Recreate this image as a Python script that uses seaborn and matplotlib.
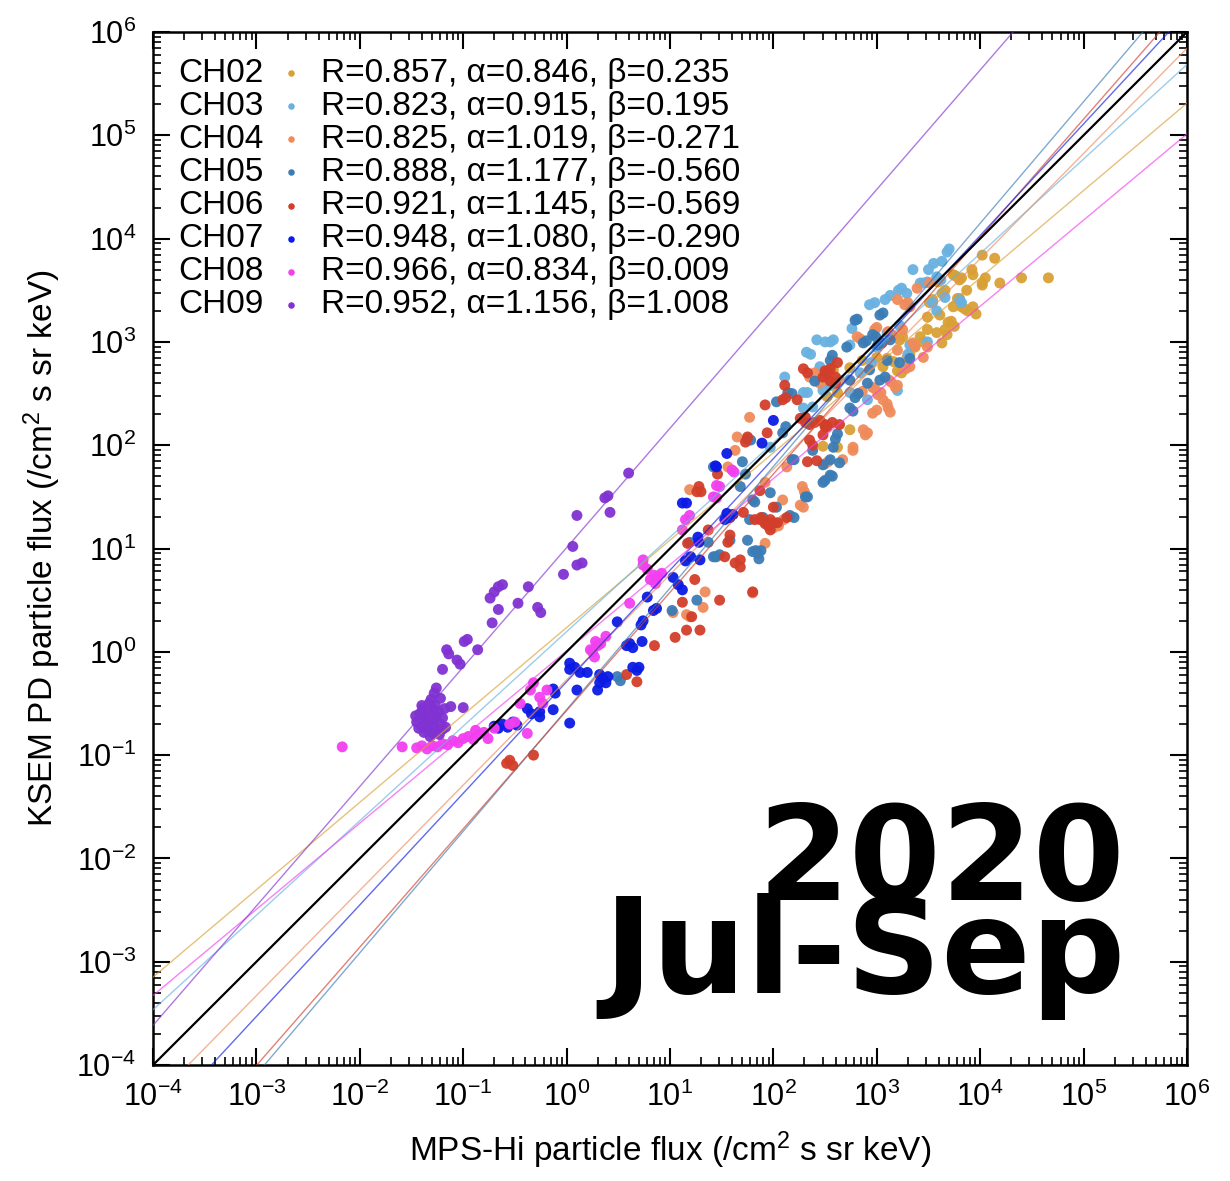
import numpy as np
import pandas as pd
import matplotlib
matplotlib.use("Agg")
import matplotlib.pyplot as plt
import seaborn as sns
from matplotlib.ticker import FixedLocator, FuncFormatter, NullFormatter

sns.set_theme(style="ticks")
plt.rcParams["font.family"] = ["Liberation Sans", "DejaVu Sans"]
plt.rcParams["mathtext.fontset"] = "custom"
plt.rcParams["mathtext.rm"] = "Liberation Sans"
plt.rcParams["mathtext.it"] = "Liberation Sans:italic"
plt.rcParams["mathtext.bf"] = "Liberation Sans:bold"
for key in ("text.color", "axes.labelcolor", "xtick.color", "ytick.color", "axes.edgecolor"):
    plt.rcParams[key] = "black"

# ---- channel metadata --------------------------------------------------
channels = ["CH02", "CH03", "CH04", "CH05", "CH06", "CH07", "CH08", "CH09"]
corr_r = [0.857, 0.823, 0.825, 0.888, 0.921, 0.948, 0.966, 0.952]
slope_alpha = [0.846, 0.915, 1.019, 1.177, 1.145, 1.080, 0.834, 1.156]
offset_beta = [0.235, 0.195, -0.271, -0.560, -0.569, -0.290, 0.009, 1.008]
colors = ["#D9A035", "#68B1E0", "#EF8B5B", "#3B7CB6",
          "#D23E2A", "#0B1BE4", "#F23FF0", "#8132D2"]
decades = list(range(-4, 7))

# ---- measured fluxes, log10 (MPS-Hi, KSEM PD) --------------------------
ch02_logx = [4.02, 4.14, 4.19, 4.40, 4.66, 3.92, 3.93, 3.74, 3.76, 3.80, 3.82, 3.87,
             4.02, 4.05, 3.66, 3.63, 3.59, 3.78, 3.82, 3.85, 3.93, 3.74, 3.61, 3.69,
             3.72, 3.75, 3.58, 3.66, 3.68, 3.49, 3.49, 3.42, 3.45, 3.37, 3.63, 3.29,
             3.32, 3.16, 3.10, 3.24, 3.20, 3.06, 3.00, 2.86, 2.74, 2.58, 2.62, 2.52,
             2.74, 2.62, 2.48, 3.54, 3.51, 3.22, 3.25, 4.02, 3.80, 3.96, 3.88]
ch02_logy = [3.84, 3.81, 3.57, 3.62, 3.62, 3.70, 3.65, 3.65, 3.64, 3.60, 3.62, 3.50,
             3.57, 3.62, 3.50, 3.47, 3.58, 3.42, 3.34, 3.32, 3.34, 3.34, 3.26, 3.19,
             3.20, 3.15, 3.09, 3.12, 3.07, 3.24, 3.12, 3.05, 3.00, 2.95, 2.99, 2.84,
             2.88, 2.81, 2.84, 2.70, 2.72, 2.76, 2.85, 2.82, 2.75, 2.73, 2.51, 2.47,
             2.15, 1.98, 1.99, 3.41, 3.38, 3.02, 3.05, 3.55, 3.42, 3.27, 3.30]

ch03_logx = [3.68, 3.70, 3.63, 3.55, 3.50, 3.58, 3.62, 3.35, 3.21, 3.24, 3.42, 3.45,
             3.49, 2.93, 2.98, 3.08, 3.13, 3.29, 2.76, 2.58, 2.55, 2.42, 2.32, 2.36,
             2.45, 2.50, 3.10, 3.22, 3.66, 3.80, 3.82, 3.00, 2.74, 2.74, 2.48, 2.33,
             2.38, 2.84, 3.20, 2.91, 2.11, 2.29, 2.50, 2.55, 2.29, 1.97, 3.49, 3.32,
             3.54, 3.58, 3.30, 2.95]
ch03_logy = [3.87, 3.90, 3.78, 3.76, 3.70, 3.63, 3.60, 3.70, 3.50, 3.52, 3.57, 3.57,
             3.58, 3.36, 3.38, 3.41, 3.45, 3.47, 3.13, 3.02, 3.00, 3.02, 2.90, 2.88,
             2.76, 3.00, 3.09, 3.16, 3.43, 3.41, 3.38, 2.95, 2.97, 2.51, 2.53, 2.51,
             2.37, 2.70, 2.53, 2.44, 2.66, 2.51, 2.66, 2.58, 2.36, 1.98, 3.00, 2.97,
             3.38, 3.30, 2.88, 2.80]

ch04_logx = [3.20, 3.27, 3.30, 3.32, 3.39, 3.51, 3.11, 3.13, 3.16, 2.98, 3.00, 2.81,
             2.84, 3.25, 3.35, 3.37, 3.20, 3.49, 3.45, 3.32, 3.28, 3.12, 3.14, 2.96,
             2.98, 2.86, 2.82, 3.01, 3.04, 3.18, 3.20, 2.96, 3.00, 3.11, 3.13, 2.91,
             2.77, 2.53, 2.50, 2.67, 2.64, 2.45, 2.40, 1.65, 1.63, 1.77, 2.35, 2.13,
             2.28, 2.30, 2.09, 1.92, 1.56, 1.19, 1.92, 1.45, 1.34, 1.32, 1.16, 1.19,
             1.03, 2.89, 2.87, 2.77, 3.06, 3.10, 2.26, 2.29, 2.00, 1.80, 2.05, 2.10]
ch04_logy = [3.41, 3.36, 3.38, 3.34, 3.52, 3.57, 3.10, 3.08, 3.06, 3.12, 3.14, 3.05,
             3.03, 3.12, 2.99, 2.96, 2.92, 2.95, 2.85, 2.76, 2.74, 2.63, 2.61, 2.56,
             2.55, 2.52, 2.50, 2.49, 2.51, 2.56, 2.58, 2.31, 2.34, 2.36, 2.32, 2.12,
             1.95, 1.84, 1.82, 1.86, 2.63, 2.60, 2.70, 2.08, 1.95, 2.27, 2.66, 1.79,
             1.60, 1.55, 1.47, 1.64, 1.79, 1.57, 1.05, 0.92, 0.58, 0.43, 0.36, 0.34,
             0.38, 2.10, 2.15, 1.98, 2.44, 2.40, 1.42, 1.40, 1.20, 0.57, 1.22, 1.28]

ch05_logx = [0.49, 0.52, 1.02, 1.26, 1.44, 1.48, 1.58, 1.80, 1.82, 1.85, 1.88, 1.86,
             1.77, 1.90, 1.75, 1.78, 1.42, 1.68, 1.73, 1.70, 2.09, 2.12, 2.03, 2.14,
             2.18, 2.40, 2.18, 2.20, 1.97, 2.03, 2.16, 2.20, 2.31, 2.33, 2.55, 2.57,
             2.55, 2.38, 1.75, 1.80, 1.83, 1.42, 1.19, 1.37, 2.79, 2.81, 3.03, 3.06,
             2.96, 2.99, 2.71, 2.57, 2.55, 2.87, 2.90, 3.01, 3.05, 3.13, 2.74, 2.74,
             2.77, 2.62, 2.60, 2.58, 2.48, 2.48, 2.50, 2.64, 2.93, 3.03, 3.08, 2.91,
             2.79, 2.82, 3.32, 3.22, 3.10]
ch05_logy = [-0.24, -0.28, 0.40, 0.50, 0.92, 0.94, 1.08, 1.47, 1.45, 0.95, 0.98, 0.90,
             1.28, 1.30, 2.06, 2.05, 1.79, 1.60, 1.72, 1.84, 2.12, 2.18, 2.42, 2.51,
             2.50, 2.62, 1.86, 1.86, 1.54, 1.40, 1.32, 1.30, 1.50, 1.50, 1.71, 1.70,
             1.86, 1.95, 1.08, 0.97, 0.98, 0.92, 1.06, 1.06, 3.21, 3.22, 3.26, 3.28,
             3.07, 3.05, 2.95, 2.87, 2.82, 2.99, 3.01, 2.97, 2.99, 3.02, 2.63, 2.36,
             2.33, 2.11, 2.06, 1.98, 1.81, 1.64, 1.66, 1.83, 2.73, 2.63, 2.66, 2.60,
             2.46, 2.50, 2.84, 2.80, 2.82]

ch06_logx = [-0.58, -0.55, -0.52, -0.32, 1.26, 1.30, 1.17, 1.24, 1.12, 1.05, 1.16, 1.29,
             1.21, 0.85, 0.68, 0.58, 1.48, 1.63, 1.68, 1.80, 1.87, 1.92, 1.95, 1.58,
             1.28, 1.37, 1.56, 1.68, 1.53, 1.82, 1.88, 1.92, 1.97, 2.00, 1.97, 2.00,
             1.71, 1.73, 1.75, 1.94, 1.92, 2.09, 2.12, 2.23, 2.26, 2.31, 2.35, 2.45,
             2.50, 2.52, 2.35, 2.38, 2.60, 2.50, 2.55, 2.29, 2.11, 1.87, 1.46, 2.13,
             2.04, 2.33, 2.48, 2.55, 2.52, 2.60, 2.62, 2.31, 2.40, 2.50, 2.57, 2.64,
             2.48, 2.33, 2.42]
ch06_logy = [-1.08, -1.05, -1.10, -1.00, 1.55, 1.55, 1.05, 0.70, 0.48, 0.14, 0.21, 0.21,
             0.34, 0.06, -0.29, -0.22, 0.50, 0.86, 0.82, 0.58, 1.28, 1.26, 1.22, 1.13,
             1.60, 1.18, 1.06, 0.89, 0.92, 1.28, 1.30, 1.24, 1.28, 1.25, 1.18, 1.40,
             1.35, 2.03, 2.08, 2.12, 2.39, 2.44, 2.46, 2.44, 2.26, 2.22, 2.20, 2.24,
             2.20, 2.18, 2.05, 2.00, 2.60, 2.72, 2.74, 2.74, 2.58, 1.56, 1.72, 1.30,
             1.25, 2.70, 2.66, 2.62, 2.70, 2.66, 2.80, 2.27, 2.22, 2.18, 2.22, 2.20,
             2.10, 1.84, 1.85]

ch07_logx = [-0.70, -0.66, -0.62, -0.57, -0.52, -0.48, -0.38, -0.34, -0.26, -0.11, -0.13,
             0.03, 0.03, 0.08, 0.10, 0.32, 0.35, 0.38, 0.40, 0.49, 0.58, 0.61, 0.64,
             0.68, 0.70, 0.72, 0.74, 0.84, 1.08, 1.12, 1.15, 1.20, 1.27, 1.12, 1.16,
             1.55, 1.58, 1.53, 1.61, 1.44, 2.00, 1.89, 1.45, 1.55, 1.28, 1.29, 1.03,
             0.78, 0.87, 0.73, 0.64, 0.03, 0.13, 0.20, 0.32, 0.30, -0.13, -0.26]
ch07_logy = [-0.72, -0.74, -0.70, -0.73, -0.68, -0.71, -0.55, -0.60, -0.58, -0.40, -0.36,
             -0.69, -0.17, -0.15, -0.37, -0.22, -0.26, -0.30, -0.24, 0.29, 0.06, 0.08,
             0.04, -0.18, -0.15, 0.26, 0.30, 0.40, 0.65, 0.60, 0.88, 0.92, 1.11, 1.44,
             1.44, 1.34, 1.30, 1.28, 1.33, 1.80, 2.24, 2.02, 1.79, 1.92, 1.06, 0.89,
             0.72, 0.53, 0.42, 0.10, -0.15, -0.11, -0.20, -0.20, -0.30, -0.37, -0.56,
             -0.63]

ch08_logx = [-2.17, -1.59, -1.45, -1.40, -1.35, -1.30, -1.25, -1.20, -1.15, -1.10, -1.05,
             -1.00, -0.95, -0.90, -0.85, -0.80, -0.76, -0.88, -0.70, -0.55, -0.50,
             -0.45, -0.35, -0.32, -0.26, -0.19, -0.23, -0.38, 0.23, 0.27, 0.33, 0.38,
             0.28, 0.30, 0.25, 0.61, 0.74, 0.78, 0.81, 0.85, 0.88, 0.92, 0.86, 1.12,
             1.15, 1.19, 1.45, 1.45, 1.48, 1.42, 1.60, 1.62, 0.74]
ch08_logy = [-0.92, -0.92, -0.93, -0.91, -0.94, -0.91, -0.92, -0.89, -0.90, -0.86, -0.88,
             -0.84, -0.82, -0.85, -0.80, -0.78, -0.84, -0.76, -0.74, -0.70, -0.68,
             -0.50, -0.37, -0.30, -0.44, -0.37, -0.50, -0.79, 0.02, -0.05, 0.08, 0.15,
             0.10, 0.06, 0.00, 0.47, 0.84, 0.80, 0.70, 0.74, 0.72, 0.76, 0.66, 1.18,
             1.28, 1.32, 1.61, 1.49, 1.60, 1.50, 1.76, 1.74, 0.89]

ch09_logx = [-1.42, -1.45, -1.40, -1.38, -1.35, -1.33, -1.30, -1.28, -1.25, -1.22, -1.20,
             -1.37, -1.34, -1.30, -1.27, -1.31, -1.28, -1.26, -1.22, -1.24, -1.40,
             -1.36, -1.32, -1.29, -1.18, -1.17, -1.43, -1.39, -1.33, -1.26, -1.23,
             -1.46, -1.20, -1.20, -1.12, -1.00, -1.16, -1.14, -0.99, -0.96, -1.06,
             -1.03, -0.86, -0.72, -0.74, -0.70, -0.66, -0.62, -0.66, -0.47, -0.37,
             -0.28, -0.25, -0.03, 0.06, 0.10, 0.15, 0.10, 0.37, 0.40, 0.42, 0.60]
ch09_logy = [-0.60, -0.68, -0.72, -0.78, -0.75, -0.70, -0.66, -0.72, -0.77, -0.70, -0.64,
             -0.63, -0.58, -0.55, -0.52, -0.46, -0.40, -0.35, -0.45, -0.58, -0.52,
             -0.67, -0.82, -0.79, -0.55, -0.73, -0.74, -0.55, -0.50, -0.62, -0.80,
             -0.62, -0.75, -0.17, -0.53, -0.54, 0.02, -0.02, 0.10, 0.12, -0.08,
             -0.12, 0.02, 0.28, 0.52, 0.58, 0.63, 0.65, 0.41, 0.47, 0.63,
             0.43, 0.38, 0.75, 1.02, 0.84, 0.86, 1.32, 1.49, 1.51, 1.35, 1.73]

# ---- assemble ----------------------------------------------------------
log_x = [ch02_logx, ch03_logx, ch04_logx, ch05_logx,
         ch06_logx, ch07_logx, ch08_logx, ch09_logx]
log_y = [ch02_logy, ch03_logy, ch04_logy, ch05_logy,
         ch06_logy, ch07_logy, ch08_logy, ch09_logy]

frames = []
for ch, lx, ly in zip(channels, log_x, log_y):
    frames.append(pd.DataFrame({"channel": ch,
                                "mps": 10.0 ** np.asarray(lx),
                                "ksem": 10.0 ** np.asarray(ly)}))
df = pd.concat(frames, ignore_index=True)
palette = dict(zip(channels, colors))

fig = plt.figure(figsize=(12.30, 11.81), dpi=100)
ax = fig.add_axes([0.1244, 0.0982, 0.8406, 0.8747])

sns.scatterplot(data=df, x="mps", y="ksem", hue="channel", palette=palette,
                s=62, linewidth=0, alpha=0.95, legend=False, ax=ax, zorder=2)

ax.set_xscale("log")
ax.set_yscale("log")
ax.set_xlim(1e-4, 1e6)
ax.set_ylim(1e-4, 1e6)

# fitted power laws: log10(y) = alpha * log10(x) + beta
lgrid = np.linspace(-4, 6, 200)
for ch, a, b, c in zip(channels, slope_alpha, offset_beta, colors):
    ax.plot(10 ** lgrid, 10 ** (a * lgrid + b), color=c, lw=1.0, alpha=0.65, zorder=3)
# one-to-one line
ax.plot(10 ** lgrid, 10 ** lgrid, color="black", lw=1.6, zorder=4)

# axes styling: ticks only inside the plotted decades
for side in ax.spines.values():
    side.set_linewidth(1.8)
    side.set_color("black")
major_pos = [10.0 ** d for d in decades]
minor_pos = [m * 10.0 ** d for d in decades[:-1] for m in range(2, 10)]
fmt = FuncFormatter(lambda v, p: r"$\mathregular{10^{%d}}$" % round(np.log10(v)))
for axis in (ax.xaxis, ax.yaxis):
    axis.set_major_locator(FixedLocator(major_pos))
    axis.set_minor_locator(FixedLocator(minor_pos))
    axis.set_major_formatter(fmt)
    axis.set_minor_formatter(NullFormatter())
ax.tick_params(which="both", direction="in", top=True, right=True, color="black")
ax.tick_params(which="major", length=12, width=1.5, labelsize=22, pad=12)
ax.tick_params(which="minor", length=6, width=1.2)

ax.set_xlabel(r"MPS-Hi particle flux (/cm$^{2}$ s sr keV)", fontsize=24, labelpad=12)
ax.set_ylabel(r"KSEM PD particle flux (/cm$^{2}$ s sr keV)", fontsize=24, labelpad=10)

# parameter table in the upper-left corner
row0 = 0.960
step = 0.0320
for i, (ch, r, a, b, c) in enumerate(zip(channels, corr_r, slope_alpha, offset_beta, colors)):
    yy = row0 - i * step
    ax.text(0.024, yy, ch, transform=ax.transAxes, fontsize=24, va="center", ha="left")
    ax.scatter([0.133], [yy], transform=ax.transAxes, s=22, color=c, linewidth=0, zorder=5)
    ax.text(0.162, yy, f"R={r:.3f}, \u03b1={a:.3f}, \u03b2={b:.3f}",
            transform=ax.transAxes, fontsize=24, va="center", ha="left")

# period stamp
fig.text(0.9150, 0.1590, "2020\nJul-Sep", fontsize=95, fontweight="bold",
         family="DejaVu Sans", ha="right", va="baseline", multialignment="right",
         linespacing=0.66, color="black")

fig.savefig("out.png", dpi=100)
